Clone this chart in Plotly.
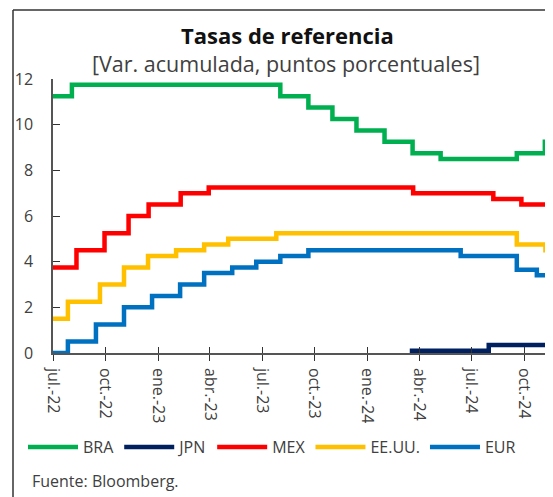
import plotly.graph_objects as go

# ---- Data (cumulative change, percentage points) ----
bra_dates = ["2022-07-01", "2022-08-03", "2023-08-02", "2023-09-20", "2023-11-01", "2023-12-13",
             "2024-01-31", "2024-03-20", "2024-05-08", "2024-09-18", "2024-11-06", "2024-11-08"]
bra_vals = [11.25, 11.75, 11.25, 10.75, 10.25, 9.75, 9.25, 8.75, 8.5, 8.75, 9.25, 9.25]

jpn_dates = ["2024-03-18", "2024-03-19", "2024-07-31", "2024-11-08"]
jpn_vals = [0.0, 0.1, 0.35, 0.35]

mex_dates = ["2022-07-01", "2022-08-11", "2022-09-29", "2022-11-10", "2022-12-15", "2023-02-09",
             "2023-03-30", "2024-03-21", "2024-08-08", "2024-09-26", "2024-11-08"]
mex_vals = [3.75, 4.5, 5.25, 6.0, 6.5, 7.0, 7.25, 7.0, 6.75, 6.5, 6.5]

usa_dates = ["2022-07-01", "2022-07-27", "2022-09-21", "2022-11-02", "2022-12-14", "2023-02-01",
             "2023-03-22", "2023-05-03", "2023-07-26", "2024-09-18", "2024-11-07", "2024-11-08"]
usa_vals = [1.5, 2.25, 3.0, 3.75, 4.25, 4.5, 4.75, 5.0, 5.25, 4.75, 4.5, 4.5]

eur_dates = ["2022-07-01", "2022-07-27", "2022-09-14", "2022-11-02", "2022-12-21", "2023-02-08",
             "2023-03-22", "2023-05-10", "2023-06-21", "2023-08-02", "2023-09-20", "2024-06-12",
             "2024-09-18", "2024-10-23", "2024-11-08"]
eur_vals = [0.0, 0.5, 1.25, 2.0, 2.5, 3.0, 3.5, 3.75, 4.0, 4.25, 4.5, 4.25, 3.65, 3.4, 3.4]

tick_dates = ["2022-07-01", "2022-10-01", "2023-01-01", "2023-04-01", "2023-07-01",
              "2023-10-01", "2024-01-01", "2024-04-01", "2024-07-01", "2024-10-01"]
tick_labels = ["jul.-22", "oct.-22", "ene.-23", "abr.-23", "jul.-23",
               "oct.-23", "ene.-24", "abr.-24", "jul.-24", "oct.-24"]
y_ticks = [0, 2, 4, 6, 8, 10, 12]

series = [
    ("BRA", bra_dates, bra_vals, "#00B050"),
    ("JPN", jpn_dates, jpn_vals, "#002060"),
    ("MEX", mex_dates, mex_vals, "#FF0000"),
    ("EE.UU.", usa_dates, usa_vals, "#FFC000"),
    ("EUR", eur_dates, eur_vals, "#0070C0"),
]

FONT = "Open Sans"
TXT = "#404040"
AX = "#555555"

OFF = 8  # page body margin
W, H = 553 - OFF, 497 - OFF
# target page pixels of plot area
PL, PR, PT, PB = 53, 546, 79, 353
L = PL - OFF
R = W - (PR - OFF)
T = PT - OFF
B = H - (PB - OFF)
PW = W - L - R
PH = H - T - B


def px(x):
    return (x - OFF - L) / PW


def py(y):
    return (H - B - (y - OFF)) / PH


fig = go.Figure()
for name, d, v, c in series:
    fig.add_trace(go.Scatter(x=d, y=v, name=name, mode="lines",
                             line=dict(color=c, width=4.5, shape="hv")))

x_range = ["2022-07-01", "2024-11-08"]

fig.update_layout(
    width=W, height=H,
    margin=dict(l=L, r=R, t=T, b=B),
    paper_bgcolor="white", plot_bgcolor="white",
    font=dict(family=FONT, color=TXT, size=15),
    showlegend=True,
    legend=dict(orientation="h", x=px(272), xanchor="center", y=py(447), yanchor="middle",
                font=dict(size=16, color=TXT), itemwidth=50, tracegroupgap=0),
    xaxis=dict(type="date", range=x_range, tickvals=tick_dates, ticktext=tick_labels,
               tickangle=90, ticks="outside", ticklen=6, tickcolor="#333", tickwidth=1.2,
               showline=True, linecolor=AX, linewidth=1.5, showgrid=False, zeroline=False,
               ticklabelstandoff=4, tickfont=dict(size=16, color=TXT)),
    xaxis2=dict(type="date", range=x_range, tickvals=tick_dates, overlaying="x",
                anchor="y", side="bottom", ticks="inside", ticklen=6, tickcolor="#333",
                tickwidth=1.2, showticklabels=False, showgrid=False, zeroline=False,
                showline=False),
    yaxis=dict(range=[0, 12], tickvals=y_ticks, ticks="inside", ticklen=7, tickcolor="#333",
               tickwidth=1.2, showline=True, linecolor=AX, linewidth=1.5, showgrid=False,
               zeroline=False, ticklabelstandoff=15, tickfont=dict(size=16, color=TXT)),
)

# invisible trace to activate xaxis2 ticks
fig.add_trace(go.Scatter(x=[x_range[0]], y=[None], xaxis="x2", showlegend=False,
                         hoverinfo="skip", mode="lines"))

fig.add_annotation(text="<b>Tasas de referencia</b>", xref="paper", yref="paper",
                   x=px(287), y=py(35), xanchor="center", yanchor="middle", showarrow=False,
                   font=dict(size=22, color="#111111", family=FONT))
fig.add_annotation(text="[Var. acumulada, puntos porcentuales]", xref="paper", yref="paper",
                   x=px(286), y=py(63), xanchor="center", yanchor="middle", showarrow=False,
                   font=dict(size=21.5, color=TXT, family=FONT))
fig.add_annotation(text="Fuente: Bloomberg.", xref="paper", yref="paper",
                   x=px(30), y=py(481), xanchor="left", yanchor="middle", showarrow=False,
                   font=dict(size=16, color=TXT, family=FONT))

# frame
fig.add_shape(type="line", xref="paper", yref="paper", x0=px(13), x1=px(13), y0=py(10), y1=py(500),
              line=dict(color="#333333", width=1.5))
fig.add_shape(type="line", xref="paper", yref="paper", x0=px(13), x1=px(560), y0=py(10), y1=py(10),
              line=dict(color="#333333", width=1.5))

fig.write_html("out.html")
